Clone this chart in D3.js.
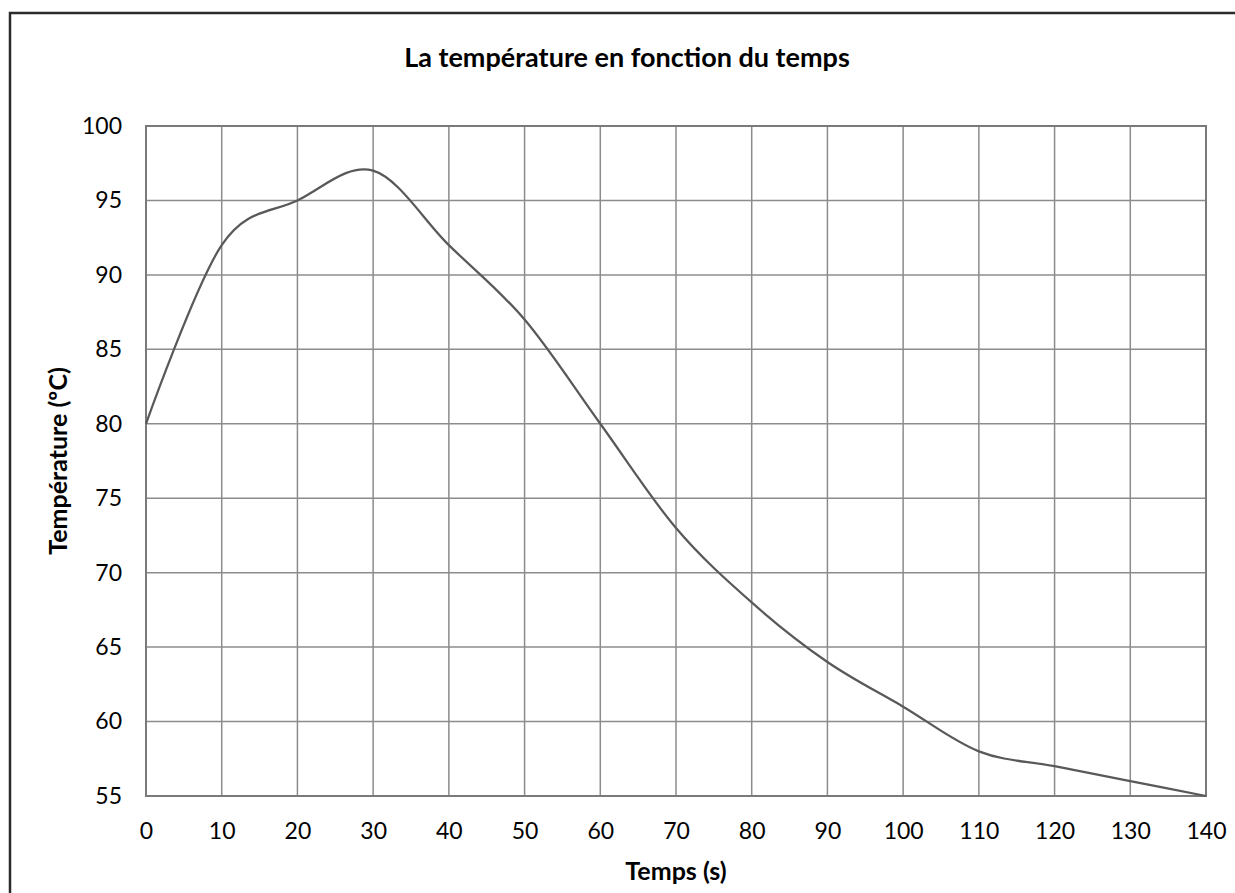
<!DOCTYPE html>
<html>
<head>
<meta charset="utf-8">
<script src="https://cdn.jsdelivr.net/npm/d3@7"></script>
<style>
  html, body { margin: 0; padding: 0; background: #fff; }
  svg { display: block; }
  text { font-family: Lato, "Open Sans", sans-serif; fill: #000; }
</style>
</head>
<body>
<svg id="chart" width="1235" height="893"></svg>
<script>
const times = [0, 10, 20, 30, 40, 50, 60, 70, 80, 90, 100, 110, 120, 130, 140];
const temperatures = [80, 92, 95, 97, 92, 87, 80, 73, 68, 64, 61, 58, 57, 56, 55];
const xTicks = [0, 10, 20, 30, 40, 50, 60, 70, 80, 90, 100, 110, 120, 130, 140];
const yTicks = [55, 60, 65, 70, 75, 80, 85, 90, 95, 100];
const titleText = "La température en fonction du temps";
const xLabel = "Temps (s)";
const yLabel = "Température (ºC)";

const svg = d3.select("#chart");
const W = 1235, H = 893;
const plot = { left: 146, right: 1206, top: 126, bottom: 796 };

svg.append("rect").attr("x", 10).attr("y", 13).attr("width", W + 10).attr("height", H + 10)
  .attr("fill", "#fff").attr("stroke", "#2b2b2b").attr("stroke-width", 2.5);

const x = d3.scaleLinear().domain([0, 140]).range([plot.left, plot.right]);
const y = d3.scaleLinear().domain([55, 100]).range([plot.bottom, plot.top]);

// grid
const g = svg.append("g");
g.selectAll("line.v").data(xTicks).join("line")
  .attr("x1", d => x(d)).attr("x2", d => x(d))
  .attr("y1", plot.top).attr("y2", plot.bottom)
  .attr("stroke", "#8c8c8c").attr("stroke-width", 1.5);
g.selectAll("line.h").data(yTicks).join("line")
  .attr("x1", plot.left).attr("x2", plot.right)
  .attr("y1", d => y(d)).attr("y2", d => y(d))
  .attr("stroke", "#8c8c8c").attr("stroke-width", 1.5);
// plot frame
svg.append("rect").attr("x", plot.left).attr("y", plot.top)
  .attr("width", plot.right - plot.left).attr("height", plot.bottom - plot.top)
  .attr("fill", "none").attr("stroke", "#7a7a7a").attr("stroke-width", 2);

// axes labels via d3 axes
const xAxis = d3.axisBottom(x).tickValues(xTicks).tickSize(0);
const xa = svg.append("g").attr("transform", `translate(0,${plot.bottom})`).call(xAxis);
xa.select(".domain").remove();
xa.selectAll("text").style("font-size", "23px").attr("fill", "#000").attr("dy", null).attr("y", 43);

const yAxis = d3.axisLeft(y).tickValues(yTicks).tickSize(0).tickPadding(24);
const ya = svg.append("g").attr("transform", `translate(${plot.left},0)`).call(yAxis);
ya.select(".domain").remove();
ya.selectAll("text").style("font-size", "23px").attr("fill", "#000");

// line
const line = d3.line()
  .x((d, i) => x(times[i]))
  .y(d => y(d))
  .curve(d3.curveCardinal.tension(0));
svg.append("path").datum(temperatures)
  .attr("d", line).attr("fill", "none")
  .attr("stroke", "#595959").attr("stroke-width", 2.25);

// titles
svg.append("text").attr("x", 627).attr("y", 67).attr("text-anchor", "middle")
  .style("font-size", "27px").style("font-weight", "bold").text(titleText);
svg.append("text").attr("x", (plot.left + plot.right) / 2).attr("y", 880).attr("text-anchor", "middle")
  .style("font-size", "25px").style("font-weight", "bold").text(xLabel);
svg.append("text").attr("transform", `translate(67,${(plot.top + plot.bottom) / 2}) rotate(-90)`)
  .attr("text-anchor", "middle")
  .style("font-size", "25px").style("font-weight", "bold").text(yLabel);
</script>
</body>
</html>
